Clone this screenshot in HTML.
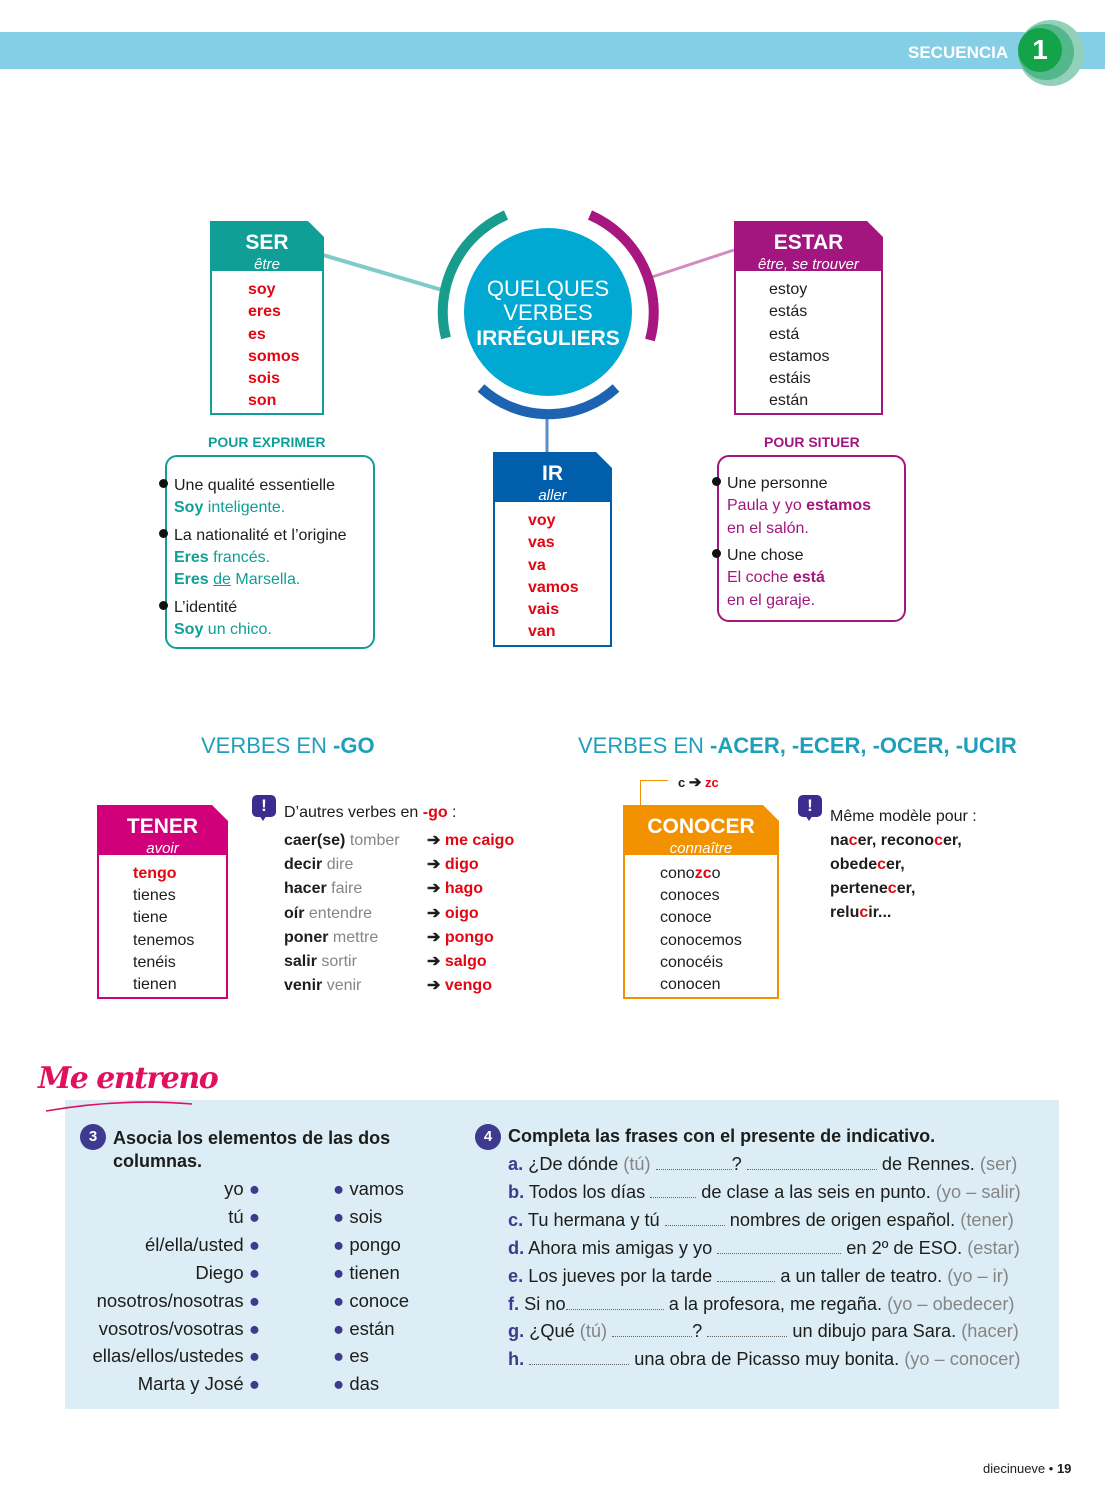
<!DOCTYPE html>
<html><head><meta charset="utf-8">
<style>
*{margin:0;padding:0;box-sizing:border-box}
body{width:1105px;height:1500px;position:relative;background:#fff;font-family:"Liberation Sans",sans-serif;color:#1d1d1b;overflow:hidden}
.a{position:absolute;white-space:nowrap;line-height:1}
.box{position:absolute;background:#fff;clip-path:polygon(0 0,calc(100% - 16px) 0,100% 16px,100% 100%,0 100%)}
.hd{position:absolute;left:0;right:0;top:0;color:#fff;text-align:center}
.hd b{display:block;font-size:21px;margin-top:8px}
.hd i{display:block;font-size:15px;margin-top:1px}
.r{color:#e30613;font-weight:bold}
.tl{color:#109f96}
.mg{color:#a3157f}
.g{color:#858585}
.p{color:#3d3a8f;font-weight:bold}
.ar{display:inline-block;font-size:16px;font-weight:bold;height:16px;line-height:16px;overflow:visible}
.d{display:inline-block;border-bottom:1.5px dotted #666;height:14px;vertical-align:baseline}
.bul{position:absolute;width:9px;height:9px;border-radius:50%;background:#111}
.num{position:absolute;width:26px;height:26px;border-radius:50%;background:#3d3a8f;color:#fff;font-weight:bold;font-size:15px;text-align:center;line-height:26px}
.ico{position:absolute;width:24px;height:22px;background:#3d2c8f;border-radius:5px;color:#fff;font-weight:bold;text-align:center;font-size:17px;line-height:22px}
.ico:after{content:"";position:absolute;left:7px;top:20px;border-left:4px solid transparent;border-right:4px solid transparent;border-top:6px solid #3d2c8f}
.ex div{position:absolute;white-space:nowrap;font-size:18.2px;line-height:1}
</style></head><body>

<div style="position:absolute;left:0;top:32px;width:1105px;height:37px;background:#85cfe6"></div>
<div class="a" style="left:908px;top:44px;color:#fff;font-weight:bold;font-size:17px">SECUENCIA</div>
<div style="position:absolute;left:1018px;top:20px;width:66px;height:66px;border-radius:50%;background:#92d0b9"></div>
<div style="position:absolute;left:1018px;top:24px;width:56px;height:56px;border-radius:50%;background:#52b78a"></div>
<div style="position:absolute;left:1018px;top:28px;width:44px;height:44px;border-radius:50%;background:#13a44a;color:#fff;font-weight:bold;font-size:28px;text-align:center;line-height:44px">1</div>

<svg style="position:absolute;left:0;top:0" width="1105" height="700">
<line x1="323" y1="255" x2="442" y2="290" stroke="#7fcbc8" stroke-width="4"/>
<line x1="652" y1="277" x2="734" y2="250" stroke="#d08cc0" stroke-width="3"/>
<line x1="547" y1="418" x2="547" y2="452" stroke="#5b8fc6" stroke-width="3"/>
<circle cx="548" cy="312" r="84" fill="#00a8d2"/>
<path d="M 446 338 A 106 106 0 0 1 506 215" fill="none" stroke="#179c8e" stroke-width="10"/>
<path d="M 590 215 A 106 106 0 0 1 650 340" fill="none" stroke="#a8167f" stroke-width="10"/>
<path d="M 481 388 A 100 100 0 0 0 616 388" fill="none" stroke="#1e63b2" stroke-width="10"/>
<text x="548" y="296" fill="#fff" font-family="Liberation Sans" font-size="22" text-anchor="middle">QUELQUES</text>
<text x="548" y="320" fill="#fff" font-family="Liberation Sans" font-size="22" text-anchor="middle">VERBES</text>
<text x="548" y="345" fill="#fff" font-family="Liberation Sans" font-size="21" font-weight="bold" text-anchor="middle">IRRÉGULIERS</text>
</svg>

<div class="box" style="left:210px;top:221px;width:114px;height:194px;border:2px solid #109f96">
 <div class="hd" style="height:48px;background:#109f96"><b>SER</b><i>être</i></div>
</div>
<div class="a r" style="left:248px;top:279px;font-size:16px;line-height:22.3px;white-space:pre">soy
eres
es
somos
sois
son</div>

<div class="box" style="left:734px;top:221px;width:149px;height:194px;border:2px solid #a3157f">
 <div class="hd" style="height:48px;background:#a3157f"><b>ESTAR</b><i>être, se trouver</i></div>
</div>
<div class="a" style="left:769px;top:279px;font-size:16px;line-height:22.3px;white-space:pre">estoy
estás
está
estamos
estáis
están</div>

<div class="box" style="left:493px;top:452px;width:119px;height:195px;border:2px solid #005eab">
 <div class="hd" style="height:48px;background:#005eab"><b>IR</b><i>aller</i></div>
</div>
<div class="a r" style="left:528px;top:510px;font-size:16px;line-height:22.3px;white-space:pre">voy
vas
va
vamos
vais
van</div>

<div class="a tl" style="left:208px;top:435px;font-size:14px;font-weight:bold">POUR EXPRIMER</div>
<div style="position:absolute;left:165px;top:455px;width:210px;height:194px;border:2px solid #109f96;border-radius:12px"></div>
<div class="bul" style="left:159px;top:479px"></div>
<div class="bul" style="left:159px;top:529px"></div>
<div class="bul" style="left:159px;top:601px"></div>
<div class="a" style="left:174px;top:475px;font-size:16px;line-height:22.2px;white-space:pre">Une qualité essentielle
<span class="tl"><b>Soy</b> inteligente.</span></div>
<div class="a" style="left:174px;top:525px;font-size:16px;line-height:22.2px;white-space:pre">La nationalité et l’origine
<span class="tl"><b>Eres</b> francés.</span>
<span class="tl"><b>Eres</b> <u>de</u> Marsella.</span></div>
<div class="a" style="left:174px;top:597px;font-size:16px;line-height:22.2px;white-space:pre">L’identité
<span class="tl"><b>Soy</b> un chico.</span></div>

<div class="a mg" style="left:764px;top:435px;font-size:14px;font-weight:bold">POUR SITUER</div>
<div style="position:absolute;left:717px;top:455px;width:189px;height:167px;border:2px solid #a3157f;border-radius:12px"></div>
<div class="bul" style="left:712px;top:477px"></div>
<div class="bul" style="left:712px;top:549px"></div>
<div class="a" style="left:727px;top:473px;font-size:16px;line-height:22.3px;white-space:pre">Une personne
<span class="mg">Paula y yo <b>estamos</b></span>
<span class="mg">en el salón.</span></div>
<div class="a" style="left:727px;top:545px;font-size:16px;line-height:22.3px;white-space:pre">Une chose
<span class="mg">El coche <b>está</b></span>
<span class="mg">en el garaje.</span></div>

<div class="a" style="left:201px;top:735px;font-size:22px;color:#1f9fb9">VERBES EN <b>-GO</b></div>
<div class="a" style="left:578px;top:735px;font-size:22px;color:#1f9fb9">VERBES EN <b>-ACER, -ECER, -OCER, -UCIR</b></div>

<div class="box" style="left:97px;top:805px;width:131px;height:194px;border:2px solid #d1007a">
 <div class="hd" style="height:48px;background:#d1007a"><b>TENER</b><i>avoir</i></div>
</div>
<div class="a" style="left:133px;top:863px;font-size:16px;line-height:22.2px;white-space:pre"><span class="r">tengo</span>
tienes
tiene
tenemos
tenéis
tienen</div>

<div class="ico" style="left:252px;top:795px">!</div>
<div class="a" style="left:284px;top:805px;font-size:16px">D’autres verbes en <span class="r">-go</span> :</div>
<div class="a" style="left:284px;top:829px;font-size:16px;line-height:24.2px;white-space:pre"><b>caer(se)</b> <span class="g">tomber</span>
<b>decir</b> <span class="g">dire</span>
<b>hacer</b> <span class="g">faire</span>
<b>oír</b> <span class="g">entendre</span>
<b>poner</b> <span class="g">mettre</span>
<b>salir</b> <span class="g">sortir</span>
<b>venir</b> <span class="g">venir</span></div>
<div class="a" style="left:427px;top:829px;font-size:16px;line-height:24.2px;white-space:pre"><span class="ar">➔</span> <span class="r">me caigo</span>
<span class="ar">➔</span> <span class="r">digo</span>
<span class="ar">➔</span> <span class="r">hago</span>
<span class="ar">➔</span> <span class="r">oigo</span>
<span class="ar">➔</span> <span class="r">pongo</span>
<span class="ar">➔</span> <span class="r">salgo</span>
<span class="ar">➔</span> <span class="r">vengo</span></div>

<div style="position:absolute;left:640px;top:780px;width:28px;height:25px;border-top:1.5px solid #f39200;border-left:1.5px solid #f39200"></div>
<div class="a" style="left:678px;top:775px;font-size:13px;font-weight:bold">c <span style="font-size:15px">➔</span> <span class="r">zc</span></div>
<div class="box" style="left:623px;top:805px;width:156px;height:194px;border:2px solid #f39200">
 <div class="hd" style="height:48px;background:#f39200"><b>CONOCER</b><i>connaître</i></div>
</div>
<div class="a" style="left:660px;top:863px;font-size:16px;line-height:22.2px;white-space:pre">cono<span class="r">zc</span>o
conoces
conoce
conocemos
conocéis
conocen</div>

<div class="ico" style="left:798px;top:795px">!</div>
<div class="a" style="left:830px;top:805px;font-size:16px;line-height:24px;white-space:pre">Même modèle pour :
<b>na<span class="r">c</span>er, recono<span class="r">c</span>er,</b>
<b>obede<span class="r">c</span>er,</b>
<b>pertene<span class="r">c</span>er,</b>
<b>relu<span class="r">c</span>ir...</b></div>

<div style="position:absolute;left:65px;top:1100px;width:994px;height:309px;background:#dcedf5"></div>
<div class="a" style="left:38px;top:1064px;font-size:30px;font-weight:bold;color:#e0105f;font-family:'DejaVu Serif',serif;font-style:italic;letter-spacing:-1.5px">Me entreno</div>
<svg style="position:absolute;left:40px;top:1098px" width="160" height="16"><path d="M6 13 Q80 0 152 6" stroke="#e0105f" stroke-width="1.6" fill="none"/></svg>

<div class="num" style="left:80px;top:1124px">3</div>
<div class="a" style="left:113px;top:1127px;font-size:18px;font-weight:bold;line-height:23px;white-space:pre">Asocia los elementos de las dos
columnas.</div>
<div class="a" style="left:60px;width:200px;top:1175px;font-size:18.5px;line-height:27.9px;text-align:right;white-space:pre">yo <span style="color:#3d3a8f">●</span>
tú <span style="color:#3d3a8f">●</span>
él/ella/usted <span style="color:#3d3a8f">●</span>
Diego <span style="color:#3d3a8f">●</span>
nosotros/nosotras <span style="color:#3d3a8f">●</span>
vosotros/vosotras <span style="color:#3d3a8f">●</span>
ellas/ellos/ustedes <span style="color:#3d3a8f">●</span>
Marta y José <span style="color:#3d3a8f">●</span></div>
<div class="a" style="left:333px;top:1175px;font-size:18.5px;line-height:27.9px;white-space:pre"><span style="color:#3d3a8f">●</span> vamos
<span style="color:#3d3a8f">●</span> sois
<span style="color:#3d3a8f">●</span> pongo
<span style="color:#3d3a8f">●</span> tienen
<span style="color:#3d3a8f">●</span> conoce
<span style="color:#3d3a8f">●</span> están
<span style="color:#3d3a8f">●</span> es
<span style="color:#3d3a8f">●</span> das</div>

<div class="num" style="left:475px;top:1124px">4</div>
<div class="a" style="left:508px;top:1127px;font-size:18px;font-weight:bold">Completa las frases con el presente de indicativo.</div>
<div class="ex">
<div style="left:508px;top:1155px"><span class="p">a.</span> ¿De dónde <span class="g">(tú)</span> <span class="d" style="width:76px"></span>? <span class="d" style="width:130px"></span> de Rennes. <span class="g">(ser)</span></div>
<div style="left:508px;top:1183px"><span class="p">b.</span> Todos los días <span class="d" style="width:46px"></span> de clase a las seis en punto. <span class="g">(yo – salir)</span></div>
<div style="left:508px;top:1211px"><span class="p">c.</span> Tu hermana y tú <span class="d" style="width:60px"></span> nombres de origen español. <span class="g">(tener)</span></div>
<div style="left:508px;top:1239px"><span class="p">d.</span> Ahora mis amigas y yo <span class="d" style="width:124px"></span> en 2º de ESO. <span class="g">(estar)</span></div>
<div style="left:508px;top:1267px"><span class="p">e.</span> Los jueves por la tarde <span class="d" style="width:58px"></span> a un taller de teatro. <span class="g">(yo – ir)</span></div>
<div style="left:508px;top:1295px"><span class="p">f.</span> Si no<span class="d" style="width:98px"></span> a la profesora, me regaña. <span class="g">(yo – obedecer)</span></div>
<div style="left:508px;top:1322px"><span class="p">g.</span> ¿Qué <span class="g">(tú)</span> <span class="d" style="width:80px"></span>? <span class="d" style="width:80px"></span> un dibujo para Sara. <span class="g">(hacer)</span></div>
<div style="left:508px;top:1350px"><span class="p">h.</span> <span class="d" style="width:100px"></span> una obra de Picasso muy bonita. <span class="g">(yo – conocer)</span></div>
</div>

<div class="a" style="left:983px;top:1462px;font-size:13px">diecinueve • <b>19</b></div>
</body></html>
